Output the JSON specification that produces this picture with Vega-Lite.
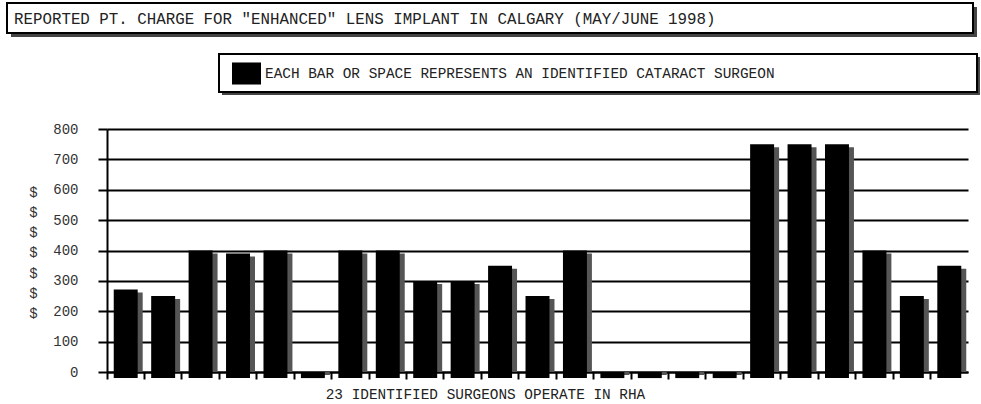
{
  "$schema": "https://vega.github.io/schema/vega-lite/v6.json",
  "background": "white",
  "padding": {"left": 6, "top": 2, "right": 0, "bottom": 4},
  "bounds": "flush",
  "spacing": 21,
  "config": {"view": {"stroke": null}, "font": "Liberation Mono"},
  "datasets": {
    "titleRow": [{"label": "REPORTED PT. CHARGE FOR \"ENHANCED\" LENS IMPLANT IN CALGARY (MAY/JUNE 1998)"}],
    "legendRow": [{"label": "EACH BAR OR SPACE REPRESENTS AN IDENTIFIED CATARACT SURGEON"}],
    "bars": [
      {"surgeon": 1, "charge": 272},
      {"surgeon": 2, "charge": 250},
      {"surgeon": 3, "charge": 400},
      {"surgeon": 4, "charge": 390},
      {"surgeon": 5, "charge": 400},
      {"surgeon": 6, "charge": 0},
      {"surgeon": 7, "charge": 400},
      {"surgeon": 8, "charge": 400},
      {"surgeon": 9, "charge": 300},
      {"surgeon": 10, "charge": 300},
      {"surgeon": 11, "charge": 350},
      {"surgeon": 12, "charge": 250},
      {"surgeon": 13, "charge": 400},
      {"surgeon": 14, "charge": 0},
      {"surgeon": 15, "charge": 0},
      {"surgeon": 16, "charge": 0},
      {"surgeon": 17, "charge": 0},
      {"surgeon": 18, "charge": 750},
      {"surgeon": 19, "charge": 750},
      {"surgeon": 20, "charge": 750},
      {"surgeon": 21, "charge": 400},
      {"surgeon": 22, "charge": 250},
      {"surgeon": 23, "charge": 350}
    ]
  },
  "vconcat": [
    {
      "width": 866,
      "height": 30,
      "data": {"name": "titleRow"},
      "encoding": {
        "x": {"datum": 0, "type": "quantitative", "scale": {"domain": [0, 1], "nice": false, "zero": false}, "axis": null},
        "y": {"datum": 1, "type": "quantitative", "scale": {"domain": [0, 1], "nice": false, "zero": false}, "axis": null}
      },
      "layer": [
        {
          "mark": {"type": "rect", "fill": "#444444", "xOffset": -96, "yOffset": 4},
          "encoding": {"x2": {"datum": 1.0046}, "y2": {"datum": -0.1333}}
        },
        {
          "mark": {"type": "rect", "fill": "white", "stroke": "black", "strokeWidth": 2, "xOffset": -100},
          "encoding": {"x2": {"datum": 1}, "y2": {"datum": 0}}
        },
        {
          "mark": {"type": "text", "align": "left", "baseline": "middle", "dx": -93, "dy": 16, "font": "Liberation Mono", "fontSize": 15.8, "fill": "#222222"},
          "encoding": {"text": {"field": "label"}}
        }
      ]
    },
    {
      "width": 870,
      "height": 54,
      "data": {"name": "legendRow"},
      "encoding": {
        "x": {"datum": 0, "type": "quantitative", "scale": {"domain": [0, 1], "nice": false, "zero": false}, "axis": null},
        "y": {"datum": 1, "type": "quantitative", "scale": {"domain": [0, 1], "nice": false, "zero": false}, "axis": null}
      },
      "layer": [
        {
          "mark": {"type": "rect", "fill": "#444444", "xOffset": 115, "yOffset": 3},
          "encoding": {"x2": {"datum": 1.0034}, "y2": {"datum": 0.2407}}
        },
        {
          "mark": {"type": "rect", "fill": "white", "stroke": "black", "strokeWidth": 2, "xOffset": 112},
          "encoding": {"x2": {"datum": 1}, "y2": {"datum": 0.2963}}
        }
      ]
    },
    {
      "width": 861,
      "height": 243,
      "data": {"name": "bars"},
      "encoding": {
        "x": {
          "field": "surgeon", "type": "ordinal",
          "scale": {"paddingInner": 0, "paddingOuter": 0},
          "axis": {
            "title": "23 IDENTIFIED SURGEONS OPERATE IN RHA",
            "labels": false,
            "bandPosition": 0,
            "grid": false,
            "domain": true, "domainColor": "black", "domainWidth": 2,
            "ticks": true, "tickColor": "black", "tickWidth": 2, "tickSize": 7,
            "titleFont": "Liberation Mono", "titleFontSize": 14.4, "titleFontWeight": "normal", "titleColor": "#222222",
            "titleX": 378, "titleY": 22, "titleAlign": "center", "titleBaseline": "middle"
          }
        },
        "y": {
          "field": "charge", "type": "quantitative", "stack": null,
          "scale": {"domain": [0, 800], "nice": false},
          "axis": {
            "values": [0, 100, 200, 300, 400, 500, 600, 700, 800],
            "labelOverlap": false,
            "grid": true, "gridColor": "black", "gridWidth": 2,
            "domain": true, "domainColor": "black", "domainWidth": 2,
            "ticks": true, "tickColor": "black", "tickWidth": 2, "tickSize": 9,
            "labelPadding": 20, "labelFont": "Liberation Mono", "labelFontSize": 14, "labelColor": "#333333",
            "title": ["$", "$", "$", "$", "$", "$", "$"],
            "titleAngle": 0, "titleX": -74, "titleY": 63, "titleAlign": "center", "titleBaseline": "middle",
            "titleLineHeight": 20.3, "titleFont": "Liberation Mono", "titleFontSize": 14, "titleFontWeight": "normal", "titleColor": "#333333"
          }
        }
      },
      "layer": [
        {
          "mark": {"type": "bar", "fill": "#555555", "xOffset": 5, "yOffset": 3, "width": {"band": 0.64}}
        },
        {
          "mark": {"type": "bar", "width": {"band": 0.64}},
          "encoding": {
            "y2": {"datum": -20},
            "color": {
              "datum": "EACH BAR OR SPACE REPRESENTS AN IDENTIFIED CATARACT SURGEON",
              "scale": {"range": ["black"]},
              "legend": {
                "orient": "none", "legendX": 125, "legendY": 56, "title": null, "padding": 0,
                "symbolType": "M-1,-0.76H1V0.76H-1Z", "symbolSize": 841, "symbolStrokeWidth": 0,
                "labelFont": "Liberation Mono", "labelFontSize": 14.4, "labelColor": "#222222", "labelOffset": 4, "labelLimit": 2000
              }
            }
          }
        }
      ]
    }
  ]
}
